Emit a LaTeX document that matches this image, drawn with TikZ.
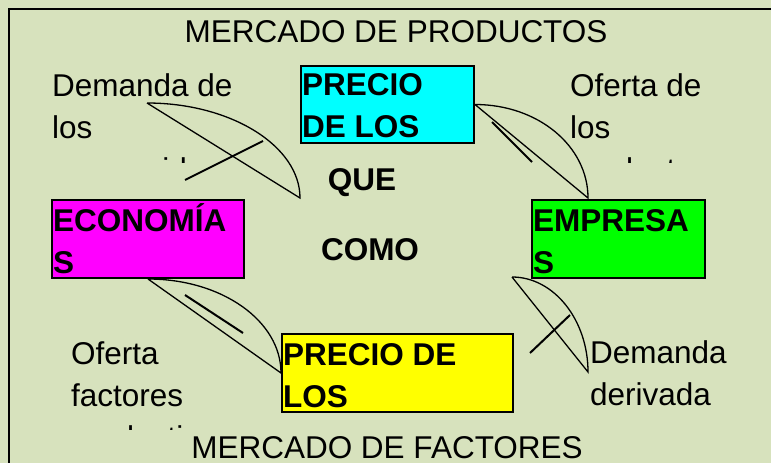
\documentclass[tikz,border=0pt]{standalone}
\usepackage{fontspec}
\setmainfont{Liberation Sans}
\definecolor{fondo}{HTML}{D7E2BD}
\definecolor{cian}{HTML}{00FFFF}
\definecolor{fucsia}{HTML}{FF00FF}
\definecolor{verde}{HTML}{00FF00}
\definecolor{amarillo}{HTML}{FFFF00}

\tikzset{
  caja/.style={draw=black, line width=2pt, anchor=north west, inner sep=0pt},
  rotulo/.style={anchor=base west, align=left, inner sep=0pt},
  flecha/.style={line width=1.3pt},
  trazo/.style={line width=2pt},
}

\begin{document}
\begin{tikzpicture}[x=1pt,y=-1pt, font=\fontsize{31.5}{42}\selectfont]

        \fill[fondo, use as bounding box] (0,0) rectangle (771,463);
        \draw[line width=2.5pt] (9,463) |- (771,9);

        % cajas de colores
        \node[caja, fill=cian, minimum width=173pt, minimum height=77pt]     (precioP) at (300,65)  {};
        \node[caja, fill=fucsia, minimum width=192pt, minimum height=78pt]   (econ)    at (51,199)  {};
        \node[caja, fill=verde, minimum width=173pt, minimum height=78pt]    (empr)    at (531,199) {};
        \node[caja, fill=amarillo, minimum width=231pt, minimum height=78pt] (precioF) at (281,333) {};

        % (la base del nodo es la de su ultima linea)
        \begin{scope}[every node/.style={rotulo, font=\fontsize{31.5}{42}\selectfont\bfseries}]
          \node (tP) at (302,137) {PRECIO\\DE LOS};
          \node (tE) at (53,273)  {ECONOMÍA\\S};
          \node (tM) at (533,273) {EMPRESA\\S};
          \node (tF) at (283,407) {PRECIO DE\\LOS};
          \node[anchor=base] (que)  at (362,190) {QUE};
          \node[anchor=base] (como) at (370,260) {COMO};
        \end{scope}

        \node[anchor=base] (mprod) at (396,42)  {MERCADO DE PRODUCTOS};
        \node[anchor=base] (mfact) at (387,458) {MERCADO DE FACTORES};

        % rotulos de los flujos (cortados por su cuadro)
        \begin{scope}
          \clip (40,60) rectangle (290,162);
          \node[rotulo] (dcons) at (52,180) {Demanda de\\los\\consumidores};
        \end{scope}
        \begin{scope}
          \clip (560,60) rectangle (771,162);
          \node[rotulo] (oprod) at (570,180) {Oferta de\\los\\productos};
        \end{scope}
        \begin{scope}
          \clip (60,330) rectangle (280,429);
          \node[rotulo] (ofact) at (71,448) {Oferta\\factores\\productivos};
        \end{scope}
        \node[rotulo] (dder) at (590,405) {Demanda\\derivada};

        % extremos de las flechas
        \coordinate (a1) at (147,103);
        \coordinate (b1) at (300,198);
        \coordinate (b2) at (588,198);
        \coordinate (a4) at (512,277);
        \coordinate (b4) at (588,372);

        \draw[flecha] (a1) .. controls +(84,0) and +(0,-52) .. (b1) -- (a1);
        \draw[flecha] (precioP.east) .. controls +(63,0) and +(0,-52) .. (b2) -- (precioP.east);
        \draw[flecha] (econ.south) .. controls +(74,0) and +(0,-52) .. (precioF.west) -- (econ.south);
        \draw[flecha] (a4) .. controls +(42,0) and +(0,-52) .. (b4) -- (a4);

        \draw[trazo] (185,180) -- (263,141);
        \draw[trazo] (492,122) -- (532,162);
        \draw[trazo] (185,295) -- (243,333);
        \draw[trazo] (530,353) -- (570,315);

      \end{tikzpicture}
\end{document}
